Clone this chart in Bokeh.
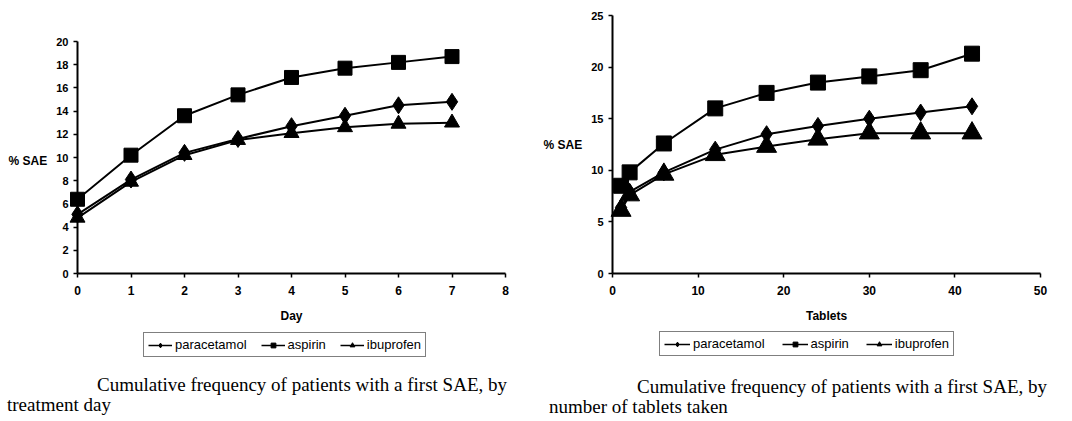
from bokeh.plotting import figure
from bokeh.layouts import row, column
from bokeh.models import Range1d, FixedTicker, Legend, LegendItem, Div
from bokeh.embed import file_html
from bokeh.resources import INLINE

# ---- data: left chart (by treatment day) ----
days = [0, 1, 2, 3, 4, 5, 6, 7]
day_paracetamol = [5.1, 8.1, 10.4, 11.6, 12.7, 13.6, 14.5, 14.8]
day_aspirin = [6.4, 10.2, 13.6, 15.4, 16.9, 17.7, 18.2, 18.7]
day_ibuprofen = [4.8, 7.9, 10.2, 11.5, 12.1, 12.6, 12.9, 13.0]
day_xticks = [0, 1, 2, 3, 4, 5, 6, 7, 8]
day_yticks = [0, 2, 4, 6, 8, 10, 12, 14, 16, 18, 20]

# ---- data: right chart (by number of tablets) ----
tablets = [1, 2, 6, 12, 18, 24, 30, 36, 42]
tab_paracetamol = [6.4, 7.9, 9.8, 12.0, 13.5, 14.3, 15.0, 15.6, 16.2]
tab_aspirin = [8.5, 9.8, 12.6, 16.0, 17.5, 18.5, 19.1, 19.7, 21.3]
tab_ibuprofen = [6.1, 7.6, 9.6, 11.5, 12.3, 13.0, 13.6, 13.6, 13.6]
tab_xticks = [0, 10, 20, 30, 40, 50]
tab_yticks = [0, 5, 10, 15, 20, 25]

series_names = ["paracetamol", "aspirin", "ibuprofen"]
series_markers = ["diamond", "square", "triangle"]

SANS = "Liberation Sans"
TOP, FRAME_H, BOTTOM = 15, 258, 55


def chart(width, border_left, xr, yr, ybounds, xticks, yticks, xlabel, ylabel):
    p = figure(width=width, height=TOP + FRAME_H + BOTTOM,
               min_border_left=border_left, min_border_right=width - border_left - 428,
               min_border_top=TOP, min_border_bottom=BOTTOM,
               x_range=xr, y_range=yr,
               output_backend="svg", toolbar_location=None)
    p.xgrid.visible = False
    p.ygrid.visible = False
    p.outline_line_color = None
    p.xaxis.ticker = FixedTicker(ticks=xticks)
    p.yaxis.ticker = FixedTicker(ticks=yticks)
    p.yaxis.bounds = ybounds
    p.xaxis.axis_label = xlabel
    p.yaxis.axis_label = ylabel
    p.yaxis.axis_label_orientation = "horizontal"
    for ax in (p.xaxis[0], p.yaxis[0]):
        ax.axis_line_width = 2
        ax.axis_line_color = "black"
        ax.major_tick_line_color = "black"
        ax.major_tick_line_width = 1.5
        ax.major_tick_out = 4
        ax.major_tick_in = 0
        ax.minor_tick_line_color = None
        ax.major_label_text_font = SANS
        ax.major_label_text_font_style = "bold"
        ax.major_label_text_font_size = "11px"
        ax.major_label_text_color = "black"
        ax.axis_label_text_font = SANS
        ax.axis_label_text_font_style = "bold"
        ax.axis_label_text_font_size = "12px"
        ax.axis_label_text_color = "black"
    p.xaxis.major_label_text_font_size = "12px"
    p.xaxis.major_label_standoff = 8
    p.xaxis.axis_label_standoff = 11
    p.yaxis.major_label_standoff = 5
    p.yaxis.axis_label_standoff = 6
    return p


def add_series(p, x, ys, sizes):
    for y, m, s in zip(ys, series_markers, sizes):
        p.line(x, y, line_color="black", line_width=2)
        p.scatter(x, y, marker=m, size=s, fill_color="black",
                  line_color="black", level="overlay")


def legend_fig(width, x, ys, left_px, bottom_px, glyph_w, spacing):
    # the legend's own renderers hold the series, kept outside the visible range
    lf = figure(width=width, height=34, min_border=0,
                x_axis_type=None, y_axis_type=None,
                x_range=Range1d(0, 1), y_range=Range1d(-2, -1),
                output_backend="svg", toolbar_location=None)
    lf.outline_line_color = None
    items = []
    for name, m, y in zip(series_names, series_markers, ys):
        ln = lf.line(x, y, line_color="black", line_width=1.5)
        sc = lf.scatter(x, y, marker=m, size=7, fill_color="black", line_color="black")
        items.append(LegendItem(label=name, renderers=[ln, sc]))
    lg = Legend(items=items, orientation="horizontal", location=(left_px, bottom_px),
                border_line_color="black", border_line_width=1.5,
                padding=4, spacing=spacing, label_standoff=3, margin=0,
                glyph_width=glyph_w, glyph_height=12, label_height=12,
                label_text_font=SANS, label_text_font_size="13px",
                label_text_color="black", background_fill_color="white")
    lf.add_layout(lg)
    return lf


# left chart: its axis 0..20 spans 232 px of the shared 258 px frame
left = chart(530, 77, Range1d(0, 8), Range1d(0, 20 * FRAME_H / 232), (0, 20),
             day_xticks, day_yticks, "Day", "\n\n% SAE")
add_series(left, days, [day_paracetamol, day_aspirin, day_ibuprofen], [17, 14, 15])

right = chart(542, 82, Range1d(0, 50), Range1d(0, 25), (0, 25),
              tab_xticks, tab_yticks, "Tablets", "% SAE")
add_series(right, tablets, [tab_paracetamol, tab_aspirin, tab_ibuprofen], [17, 15, 20])

leg_left = legend_fig(530, days, [day_paracetamol, day_aspirin, day_ibuprofen], 143, 5, 24, 14)
leg_right = legend_fig(542, tablets, [tab_paracetamol, tab_aspirin, tab_ibuprofen], 129, 6, 26, 17)

cap_style = ("font-family:'Liberation Serif',serif;font-size:19px;line-height:20px;"
             "color:#000;white-space:nowrap;")
cap_left = Div(text=('<div style="%s"><span style="padding-left:97px">'
                     'Cumulative frequency of patients with a first SAE, by</span><br>'
                     '<span style="padding-left:7px">treatment day</span></div>') % cap_style,
               width=530, height=40, margin=(13, 0, 0, 0))
cap_right = Div(text=('<div style="%s padding-left:19px;padding-top:2px;">'
                      '<span style="padding-left:88px">'
                      'Cumulative frequency of patients with a first SAE, by</span><br>'
                      'number of tablets taken</div>') % cap_style,
                width=542, height=40, margin=(13, 0, 0, 0))

p = column(row(left, right), row(leg_left, leg_right), row(cap_left, cap_right))
open("out.html", "w").write(file_html(p, INLINE))
